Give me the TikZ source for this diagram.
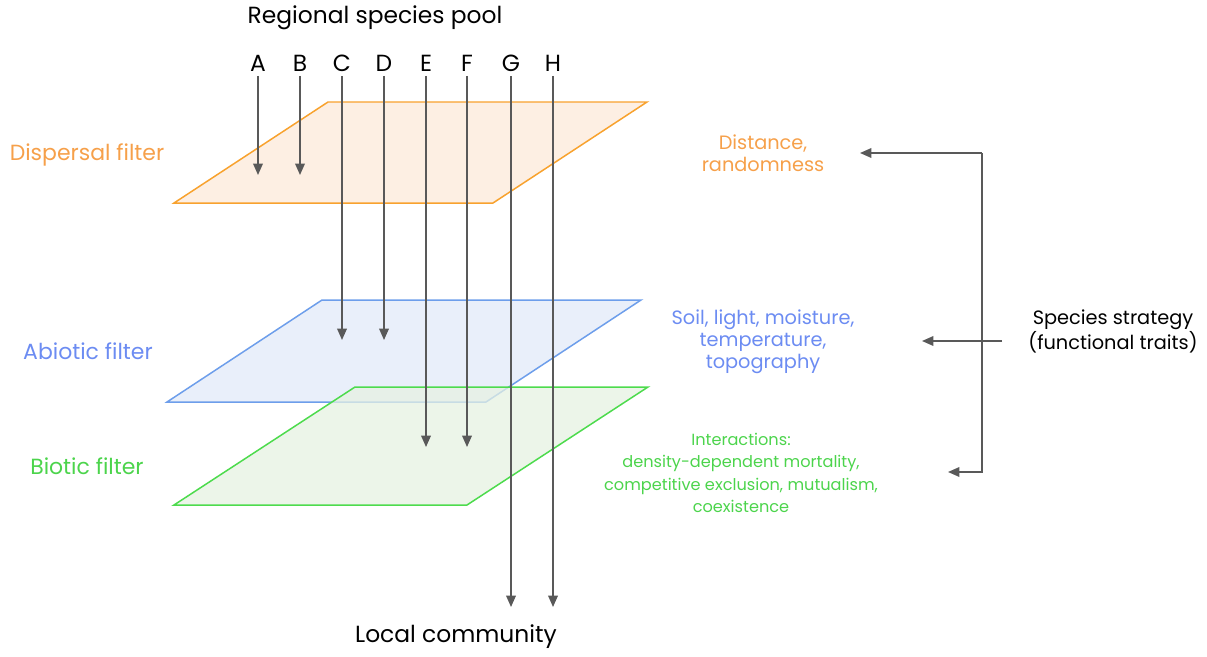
\documentclass[tikz,border=0pt]{standalone}
\usepackage{fontspec}
\setmainfont{Poppins}
\usetikzlibrary{arrows.meta}

\definecolor{displine}{HTML}{F8A22E}
\definecolor{dispfill}{HTML}{FCEAD9}
\definecolor{abioline}{HTML}{6D9EEB}
\definecolor{abiofill}{HTML}{E2EAF8}
\definecolor{bioline}{HTML}{4DDB4D}
\definecolor{biofill}{HTML}{E6F1E2}
\definecolor{disptext}{HTML}{F6A04A}
\definecolor{abiotext}{HTML}{6C8CF2}
\definecolor{biotext}{HTML}{4CD44C}
\definecolor{arrowgray}{HTML}{595959}

\tikzset{
  flow/.style={draw=arrowgray, line width=0.85pt, -{Triangle[length=6.5pt,width=5.5pt]}},
  plane/.style={line width=0.85pt, fill opacity=0.75},
  lbl/.style={font=\fontsize{11}{12.5}\selectfont, align=center, inner sep=0pt},
  small/.style={font=\fontsize{9.2}{12.8}\selectfont, align=center, inner sep=0pt},
  side/.style={font=\fontsize{12.5}{14}\selectfont, inner sep=0pt},
  big/.style={font=\fontsize{13.3}{15}\selectfont, inner sep=0pt},
}

\begin{document}
\begin{tikzpicture}[x=0.02cm, y=-0.02cm]
    \useasboundingbox (0,0) rectangle (1207,656);

    % filter planes, drawn back to front
    \draw[plane, draw=displine, fill=dispfill] (328,102) -- (647,102) -- (493,203) -- (174,203) -- cycle;
    \draw[plane, draw=abioline, fill=abiofill] (322,300) -- (641,300) -- (486,402) -- (167,402) -- cycle;
    \draw[plane, draw=bioline, fill=biofill] (355,387) -- (648,387) -- (467,505) -- (174,505) -- cycle;

    % species of the pool
    \node[big] (pool) at (375,18) {Regional species pool};
    \foreach \n/\x in {A/258,B/300,C/342,D/384,E/426,F/467,G/511,H/553}
        \node[big] (\n) at (\x,63) {\n};

    % how far each species gets
    \foreach \n/\e in {A/175,B/175,C/340,D/340,E/447,F/447,G/607,H/607}
        \draw[flow, shorten <=2.5pt] (\n.south) -- (\n.south |- 0,\e);

    \node[big] (local) at (456,637) {Local community};

    % filter names
    \node[side, text=disptext] (disp) at (87,155) {Dispersal filter};
    \node[side, text=abiotext] (abiot) at (88,351) {Abiotic filter};
    \node[side, text=biotext] (biot) at (87,466) {Biotic filter};

    % what each filter depends on
    \node[lbl, text=disptext] (dist) at (763,153) {Distance,\\randomness};
    \node[lbl, text=abiotext] (abio) at (763,342) {Soil, light, moisture,\\temperature,\\topography};
    \node[small, text=biotext] (bio) at (741,473) {Interactions:\\density-dependent mortality,\\competitive exclusion, mutualism,\\coexistence};

    \node[lbl] (strat) at (1113,331) {Species strategy\\(functional traits)};

    % bracket from the traits to all three filters
    \coordinate (brkT) at (982,153);
    \coordinate (brkB) at (982,472);
    \coordinate (stratL) at (1002,341);
    \coordinate (tipD) at (860,153);
    \coordinate (tipA) at (922,341);
    \coordinate (tipB) at (948,472);

    \draw[flow] (brkT) -- (tipD);
    \draw[flow] (brkT) -- (brkB) -- (tipB);
    \draw[flow] (stratL) -- (tipA);
\end{tikzpicture}
\end{document}
